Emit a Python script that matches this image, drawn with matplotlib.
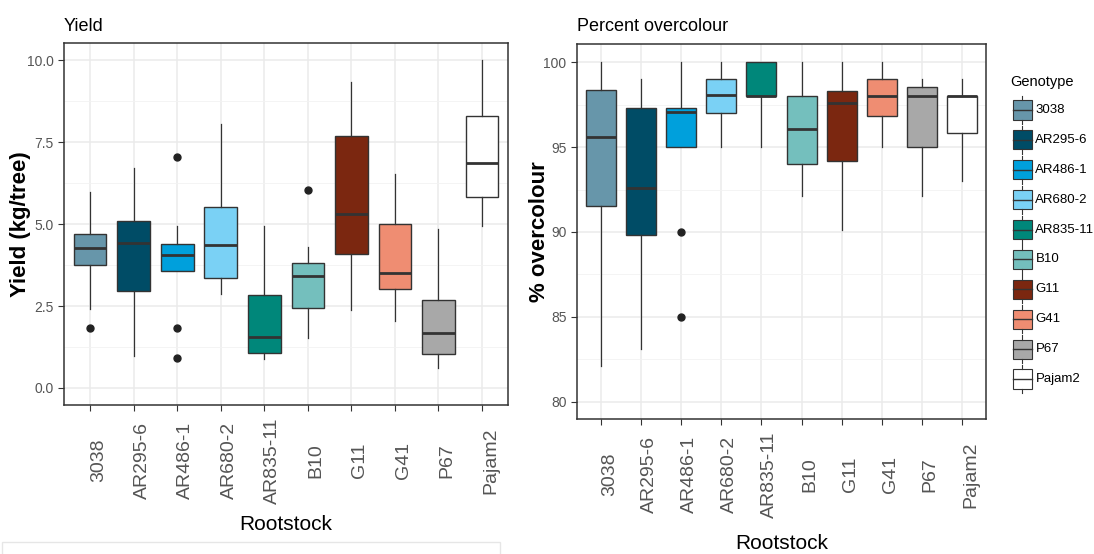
import numpy as np
import matplotlib.pyplot as plt
from matplotlib.patches import Rectangle

plt.rcParams['font.family'] = ['Liberation Sans', 'DejaVu Sans']

genotypes = ['3038', 'AR295-6', 'AR486-1', 'AR680-2', 'AR835-11',
             'B10', 'G11', 'G41', 'P67', 'Pajam2']
colors = ['#6796AA', '#004C66', '#00A0DC', '#7AD1F5', '#00877A',
          '#74BFBD', '#7B2710', '#EF8D72', '#A8A8A8', '#FFFFFF']

# Yield (kg/tree) box stats
y_whislo = [2.41, 0.98, 3.57, 2.87, 0.88, 1.52, 2.38, 2.04, 0.61, 4.94]
y_q1     = [3.75, 2.96, 3.57, 3.35, 1.07, 2.44, 4.10, 3.02, 1.04, 5.82]
y_med    = [4.27, 4.42, 4.05, 4.36, 1.55, 3.41, 5.30, 3.51, 1.68, 6.86]
y_q3     = [4.69, 5.09, 4.39, 5.52, 2.84, 3.81, 7.68, 5.00, 2.68, 8.29]
y_whishi = [5.97, 6.70, 4.94, 8.05, 4.94, 4.30, 9.33, 6.52, 4.85, 10.0]
y_fliers = [[1.83], [], [7.04, 1.83, 0.91], [], [], [6.04], [], [], [], []]

# Percent overcolour box stats
p_whislo = [82.1, 83.1, 95.0, 95.0, 95.0, 92.1, 90.1, 95.0, 92.1, 93.0]
p_q1     = [91.55, 89.8, 95.0, 97.0, 98.0, 94.0, 94.2, 96.8, 95.0, 95.8]
p_med    = [95.6, 92.6, 97.06, 98.06, 98.0, 96.08, 97.6, 98.0, 98.0, 98.0]
p_q3     = [98.33, 97.3, 97.3, 99.0, 100.0, 98.0, 98.3, 99.0, 98.55, 98.0]
p_whishi = [100.0, 99.0, 100.0, 100.0, 100.0, 100.0, 100.0, 100.0, 99.0, 99.0]
p_fliers = [[], [], [90.0, 85.0], [], [], [], [], [], [], []]

fig = plt.figure(figsize=(10.94, 5.54), dpi=100)

def make_stats(lo, q1, med, q3, hi, fl):
    return [dict(whislo=a, q1=b, med=c, q3=d, whishi=e, fliers=f, label=g)
            for a, b, c, d, e, f, g in zip(lo, q1, med, q3, hi, fl, genotypes)]

def draw_panel(ax, stats, title, ylabel, yticks, ylim, yfmt, ylab_x, xlab_pad):
    bp = ax.bxp(stats, positions=range(1, 11), widths=0.75, patch_artist=True,
                showcaps=False,
                boxprops=dict(edgecolor='#333333', linewidth=1.0),
                medianprops=dict(color='#333333', linewidth=2.0),
                whiskerprops=dict(color='#333333', linewidth=0.9),
                flierprops=dict(marker='o', markerfacecolor='#222222',
                                markeredgecolor='#222222', markersize=5))
    for patch, c in zip(bp['boxes'], colors):
        patch.set_facecolor(c)
    ax.set_xlim(0.4, 10.6)
    ax.set_ylim(*ylim)
    ax.set_yticks(yticks)
    ax.set_yticklabels([yfmt.format(v) for v in yticks], fontsize=10, color='#555555')
    minor = [(a + b) / 2 for a, b in zip(yticks[:-1], yticks[1:])]
    ax.set_yticks(minor, minor=True)
    ax.set_xticks(range(1, 11))
    # labels centred on a common line, starting at the tick (ggplot style)
    ax.set_xticklabels(genotypes, rotation=90, fontsize=14, color='#555555',
                       ha='left', va='center')
    ax.tick_params(axis='both', which='major', length=4, width=0.8, color='#333333')
    ax.tick_params(axis='x', which='major', pad=36)
    ax.tick_params(axis='y', which='minor', length=0)
    ax.grid(True, which='major', color='#EBEBEB', linewidth=1.1)
    ax.grid(True, which='minor', axis='y', color='#F2F2F2', linewidth=0.6)
    ax.set_axisbelow(True)
    for s in ax.spines.values():
        s.set_color('#333333')
        s.set_linewidth(1.1)
    ax.set_title(title, loc='left', fontsize=13, pad=9)
    ax.set_ylabel(ylabel, fontsize=16, fontweight='bold')
    ax.yaxis.set_label_coords(ylab_x, 0.5)
    ax.set_xlabel('Rootstock', fontsize=15, labelpad=xlab_pad)

ax1 = fig.add_axes([0.0585, 0.269, 0.406, 0.653])
draw_panel(ax1, make_stats(y_whislo, y_q1, y_med, y_q3, y_whishi, y_fliers),
           'Yield', 'Yield (kg/tree)', [0.0, 2.5, 5.0, 7.5, 10.0], (-0.52, 10.52), '{:.1f}',
           -0.074, 8)

ax2 = fig.add_axes([0.5274, 0.2437, 0.3739, 0.6769])
draw_panel(ax2, make_stats(p_whislo, p_q1, p_med, p_q3, p_whishi, p_fliers),
           'Percent overcolour', '% overcolour', [80, 85, 90, 95, 100], (79.0, 101.06), '{:d}',
           -0.066, 12)

# legend drawn as box glyphs
lg = fig.add_axes([0.915, 0.278, 0.085, 0.6137])
lg.set_xlim(0, 1)
lg.set_ylim(9.70, -1.672)
lg.axis('off')
lg.text(0.10, -0.94, 'Genotype', fontsize=10.5, va='center', ha='left')
for i, (g, c) in enumerate(zip(genotypes, colors)):
    lg.add_patch(Rectangle((0.13, i - 0.32), 0.20, 0.64, facecolor=c,
                           edgecolor='#333333', linewidth=0.8))
    lg.plot([0.13, 0.33], [i, i], color='#333333', linewidth=1.0)
    lg.plot([0.23, 0.23], [i - 0.47, i - 0.32], color='#333333', linewidth=0.8)
    lg.plot([0.23, 0.23], [i + 0.32, i + 0.47], color='#333333', linewidth=0.8)
    lg.text(0.37, i, g, fontsize=9.5, va='center', ha='left')

# faint frame at the bottom left of the original image
fig.patches.append(Rectangle((2 / 1094, -0.01), 498 / 1094, 0.0317, transform=fig.transFigure,
                             facecolor='none', edgecolor='#E6E6E6', linewidth=1.0))

fig.savefig('out.png', dpi=100)
